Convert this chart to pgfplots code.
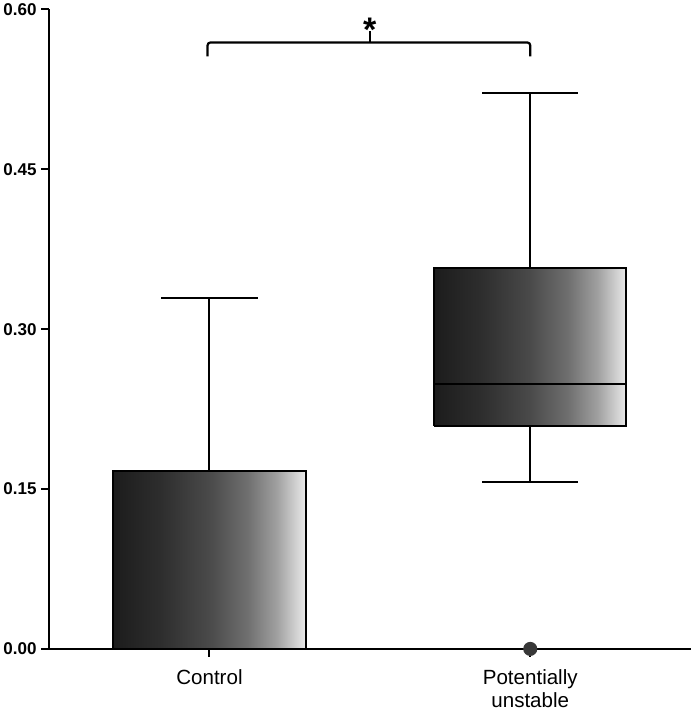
\documentclass[border=0pt]{standalone}
\usepackage{pgfplots}
\pgfplotsset{compat=1.18}
\usepackage{fontspec}
\setmainfont{Liberation Sans}
\definecolor{c0}{HTML}{1C1C1C}
\definecolor{c1}{HTML}{2E2E2E}
\definecolor{c2}{HTML}{4A4A4A}
\definecolor{c3}{HTML}{707070}
\definecolor{c4}{HTML}{A0A0A0}
\definecolor{c5}{HTML}{EAEAEA}
\pgfdeclarehorizontalshading{boxshade}{100bp}{color(0bp)=(c0); color(25bp)=(c0); color(37.5bp)=(c1); color(50bp)=(c2); color(60bp)=(c3); color(67.5bp)=(c4); color(75bp)=(c5); color(100bp)=(c5)}
\begin{document}
\begin{tikzpicture}
\begin{axis}[
  scale only axis, width=640pt, height=638pt,
  xmin=0.5, xmax=2.5, ymin=0, ymax=0.6,
  axis x line=bottom, axis y line=left,
  axis line style={-, line width=2pt},
  clip=false,
  xtick={1,2}, xticklabels={Control,{Potentially\\unstable}},
  xticklabel style={align=center, font=\fontsize{20.5}{23}\selectfont, yshift=-9pt},
  ytick={0,0.15,0.3,0.45,0.6}, yticklabels={0.00,0.15,0.30,0.45,0.60},
  yticklabel style={font=\bfseries\fontsize{17}{19}\selectfont, xshift=-1pt},
  tick align=outside, major tick length=8pt,
  tick style={line width=2pt, black},
  every axis plot/.append style={line width=2pt, black},
]
% Control: whisker 0 - 0.329, box 0 - 0.167, median 0
\addplot[mark=none] coordinates {(1,0.167) (1,0.329)};
\addplot[mark=none] coordinates {(0.85,0.329) (1.15,0.329)};
\addplot[draw=black, shade, shading=boxshade, line join=miter] coordinates {(0.7,0) (1.3,0) (1.3,0.167) (0.7,0.167) (0.7,0)};
% Potentially unstable: whiskers 0.157 - 0.522, box 0.209 - 0.357, median 0.249, outlier 0
\addplot[mark=none] coordinates {(2,0.357) (2,0.522)};
\addplot[mark=none] coordinates {(1.85,0.522) (2.15,0.522)};
\addplot[mark=none] coordinates {(2,0.157) (2,0.209)};
\addplot[mark=none] coordinates {(1.85,0.157) (2.15,0.157)};
\addplot[draw=black, shade, shading=boxshade, line join=miter] coordinates {(1.7,0.209) (2.3,0.209) (2.3,0.357) (1.7,0.357) (1.7,0.209)};
\addplot[mark=none] coordinates {(1.7,0.249) (2.3,0.249)};
\addplot[only marks, mark=*, mark size=6pt, mark options={fill=black!78, draw=black!78}] coordinates {(2,0.0)};
% significance bracket
\draw[line width=2.2pt, rounded corners=3pt] (axis cs:0.994,0.556) -- (axis cs:0.994,0.569) -- (axis cs:2.0,0.569) -- (axis cs:2.0,0.556);
\draw[line width=2.2pt] (axis cs:1.5,0.569) -- (axis cs:1.5,0.580);
\node[anchor=base, font=\bfseries\fontsize{34}{34}\selectfont] at (axis cs:1.5,0.570) {*};
\end{axis}
\end{tikzpicture}
\end{document}
